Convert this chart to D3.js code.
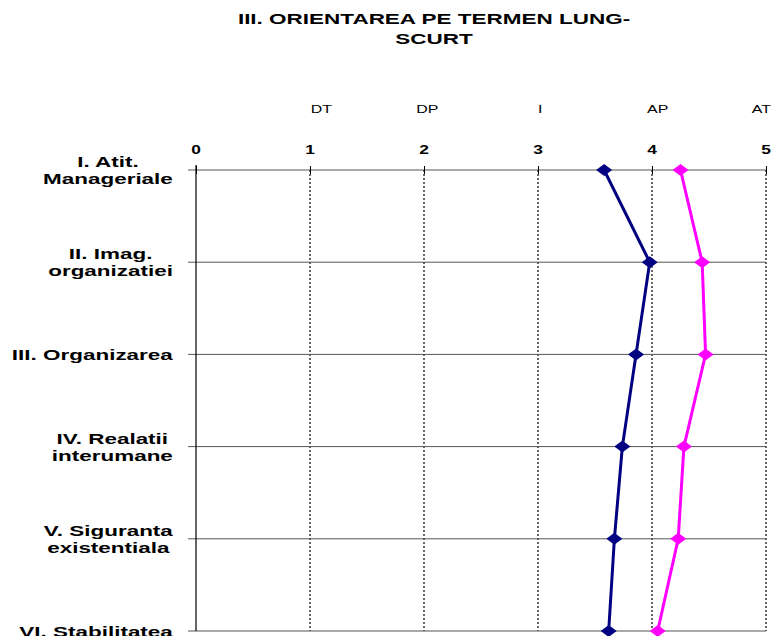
<!DOCTYPE html>
<html>
<head>
<meta charset="utf-8">
<script src="https://cdn.jsdelivr.net/npm/d3@7"></script>
<style>
  body { margin: 0; background: #fff; overflow: hidden; }
  text { font-family: "Liberation Sans", Arial, sans-serif; fill: #000; }
</style>
</head>
<body>
<script>
// data
const categories = [
  "I. Atit.\nManageriale",
  "II. Imag.\norganizatiei",
  "III. Organizarea",
  "IV. Realatii\ninterumane",
  "V. Siguranta\nexistentiala",
  "VI. Stabilitatea"
]
const seriesBlue = [3.58, 3.98, 3.86, 3.74, 3.67, 3.62]
const seriesPink = [4.25, 4.44, 4.47, 4.28, 4.23, 4.05]
const xTicks = [0, 1, 2, 3, 4, 5]
const scaleLabels = ["DT", "DP", "I", "AP", "AT"]
const scaleLabelPos = [1.1, 2.03, 3.02, 4.05, 4.96]
const titleLines = ["III. ORIENTAREA PE TERMEN LUNG-", "SCURT"]

const width = 780,
  height = 636
const SX = 1.45 // text looks stretched horizontally
const x = d3.scaleLinear().domain([0, 5]).range([196, 766])
const y = d3.scalePoint().domain(categories).range([170, 631])

const svg = d3
  .select("body")
  .append("svg")
  .attr("width", width)
  .attr("height", height)
  .attr("viewBox", [0, 0, width, height])

// title
svg
  .append("g")
  .selectAll("text")
  .data(titleLines)
  .join("text")
  .attr("transform", (d, i) => `translate(434,${24 + i * 20}) scale(1.5,1)`)
  .attr("text-anchor", "middle")
  .style("font-size", "15px")
  .style("font-weight", "bold")
  .text(d => d)

// DT / DP / I / AP / AT
svg
  .append("g")
  .selectAll("text")
  .data(scaleLabels)
  .join("text")
  .attr("transform", (d, i) => `translate(${x(scaleLabelPos[i])},113) scale(${SX},1)`)
  .attr("text-anchor", "middle")
  .style("font-size", "11px")
  .text(d => d)

// vertical dotted grid
svg
  .append("g")
  .selectAll("line")
  .data(xTicks.slice(1))
  .join("line")
  .attr("x1", d => x(d))
  .attr("x2", d => x(d))
  .attr("y1", y.range()[0])
  .attr("y2", y.range()[1])
  .attr("stroke", "#000")
  .attr("stroke-width", 1.2)
  .attr("stroke-dasharray", "2,2")

// horizontal category lines
svg
  .append("g")
  .selectAll("line")
  .data(categories)
  .join("line")
  .attr("x1", 188)
  .attr("x2", x(5))
  .attr("y1", d => y(d))
  .attr("y2", d => y(d))
  .attr("stroke", "#555")
  .attr("stroke-width", 1)

// top axis with ticks
const xAxis = d3.axisTop(x).tickValues(xTicks).tickSize(0).tickFormat("")
svg
  .append("g")
  .attr("transform", `translate(0,${y.range()[0]})`)
  .call(xAxis)
  .call(g => g.select(".domain").remove())
  .call(g =>
    g.selectAll(".tick line").attr("y1", -4).attr("y2", 4).attr("stroke", "#000")
  )

svg
  .append("g")
  .selectAll("text")
  .data(xTicks)
  .join("text")
  .attr("transform", d => `translate(${x(d)},154) scale(${SX},1)`)
  .attr("text-anchor", "middle")
  .style("font-size", "12px")
  .style("font-weight", "bold")
  .text(d => d)

// left axis line
svg
  .append("line")
  .attr("x1", x(0))
  .attr("x2", x(0))
  .attr("y1", 165)
  .attr("y2", y.range()[1])
  .attr("stroke", "#000")
  .attr("stroke-width", 1.2)

// category labels (block right aligned, lines centered)
const labelRight = 173
const lineH = 17
categories.forEach(c => {
  const lines = c.split("\n")
  const g = svg.append("g")
  const t = g
    .append("text")
    .attr("transform", `scale(${SX},1)`)
    .attr("text-anchor", "middle")
    .style("font-size", "15.5px")
    .style("font-weight", "bold")
  lines.forEach((l, i) => {
    t.append("tspan")
      .attr("x", 0)
      .attr("y", (i - (lines.length - 1) / 2) * lineH + 5.5)
      .text(l)
  })
  const w = t.node().getBBox().width
  g.attr("transform", `translate(${labelRight - (w * SX) / 2},${y(c)})`)
})

// series
const diamond = "M0,-6L8,0L0,6L-8,0Z"
const series = [
  { values: seriesBlue, color: "#000080" },
  { values: seriesPink, color: "#ff00ff" }
]
const line = d3
  .line()
  .x(d => x(d[1]))
  .y(d => y(d[0]))

series.forEach(s => {
  const pts = categories.map((c, i) => [c, s.values[i]])
  svg
    .append("path")
    .attr("d", line(pts))
    .attr("fill", "none")
    .attr("stroke", s.color)
    .attr("stroke-width", 3)
  svg
    .append("g")
    .selectAll("path")
    .data(pts)
    .join("path")
    .attr("d", diamond)
    .attr("transform", d => `translate(${x(d[1])},${y(d[0])})`)
    .attr("fill", s.color)
})
</script>
</body>
</html>
